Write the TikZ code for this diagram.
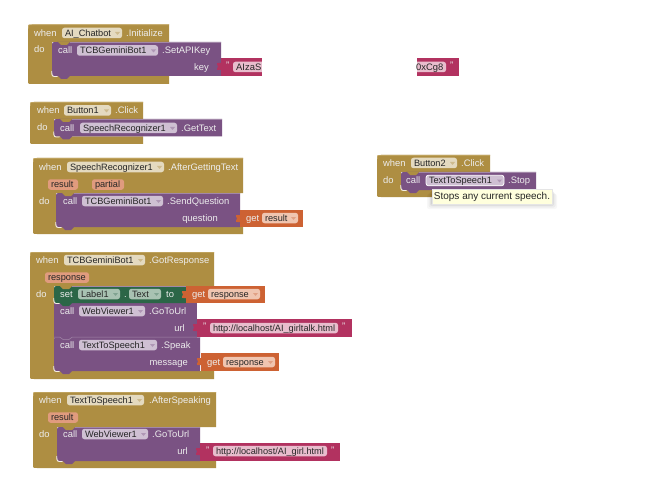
\documentclass[tikz,border=0pt]{standalone}
\usepackage{fontspec}
\setmainfont{Liberation Sans}
\definecolor{gold}{HTML}{AE8E42}
\definecolor{goldL}{HTML}{C8AD6C}
\definecolor{purp}{HTML}{7A5283}
\definecolor{purpL}{HTML}{A287A8}
\definecolor{grn}{HTML}{2B6647}
\definecolor{org}{HTML}{CD6233}
\definecolor{mag}{HTML}{B23260}
\definecolor{fgold}{HTML}{E4DAC0}
\definecolor{fpurp}{HTML}{CFC0D3}
\definecolor{fgrn}{HTML}{A8C2B2}
\definecolor{forg}{HTML}{F0C5B0}
\definecolor{fmag}{HTML}{E8BDCD}
\definecolor{fpar}{HTML}{E09B7E}
\definecolor{tipy}{HTML}{FFFFDD}
\tikzset{
 x=1pt,y=-1pt,
 lbl/.style={text=white!93!black,font=\fontsize{9.4}{11}\selectfont,inner sep=0pt,anchor=west,text height=8pt,text depth=1.2pt},
 fieldbox/.style={rounded corners=2.5pt,inner xsep=3pt,inner ysep=0pt,minimum height=10.5pt,text=black!85,font=\fontsize{9.2}{11}\selectfont,text height=8pt,text depth=1.2pt,align=left},
}
% name x y text
\newcommand{\Tx}[4]{\node[lbl] (#1) at (#2,#3) {#4};}
\newcommand{\Rx}[4]{\node[lbl,anchor=east] (#1) at (#2,#3) {#4};}
% name x1 x2 y fill text
\newcommand{\Fd}[6]{\pgfmathsetmacro\fw{#3-#2}\pgfmathsetmacro\tw{#3-#2-6}\pgfmathsetmacro\fc{(#2+#3)/2}%
 \node[fieldbox,fill=#5,text width=\tw pt,minimum width=\fw pt] (#1) at (\fc,#4) {#6};}
% dropdown field
\newcommand{\Dd}[7]{\Fd{#1}{#2}{#3}{#4}{#5}{#6}\pgfmathsetmacro\ax{#3-7}%
 \fill[#7] (\ax,#4-1) -- ++(5,0) -- ++(-2.5,3) -- cycle;}
% gold block: x1 x2 y1 y2 headerbottom armx innerbottom
\newcommand{\Gb}[7]{%
 \fill[gold] (#1+4,#3) -- (#2,#3) -- (#2,#5) -- (#6,#5) -- (#6,#7) -- (#2,#7) -- (#2,#4) -- (#1+4,#4) .. controls (#1,#4) .. (#1,#4-4) -- (#1,#3+4) .. controls (#1,#3) .. cycle;
 \draw[goldL,line width=.6pt] (#2,#3+.3) -- (#1+4,#3+.3) .. controls (#1+.3,#3+.3) .. (#1+.3,#3+4);
}
% rounded-lower-left statement: x1 x2 y1 y2 colour parent
\newcommand{\Pb}[6]{%
 \fill[#5] (#1+5,#3) .. controls (#1,#3) .. (#1,#3+5) -- (#1,#4-5) .. controls (#1,#4) .. (#1+5,#4) -- (#1+6,#4) -- (#1+9,#4+3) -- (#1+15,#4+3) -- (#1+18,#4) -- (#2,#4) -- (#2,#3) -- cycle;
 \fill[#6] (#1+6,#3) -- (#1+9,#3+3) -- (#1+15,#3+3) -- (#1+18,#3) -- cycle;
 \draw[white!85!gold,line width=.8pt] (#1-.2,#4-5) .. controls (#1-.2,#4+.6) .. (#1+5.5,#4+.6);
 \draw[purpL,line width=.5pt] (#2,#3+.25) -- (#1+18,#3+.25);
}
% square statement joined to previous: x1 x2 y1 y2 colour
\newcommand{\Sb}[5]{\fill[#5] (#1,#3) rectangle (#2,#4);}
% value block with plug: x1 x2 y1 y2 colour
\newcommand{\Vb}[5]{%
 \fill[#5] (#1,#3) rectangle (#2,#4);
 \fill[#5] (#1,#3+5) -- (#1-2.5,#3+5) .. controls (#1-4,#3+5) .. (#1-4,#3+6.5) -- (#1-3,#3+8.5) -- (#1-4,#3+10.5) .. controls (#1-4,#3+12) .. (#1-2.5,#3+12) -- (#1,#3+12) -- cycle;
}
\begin{document}
\begin{tikzpicture}
\useasboundingbox (0,0) rectangle (656,500);
\fill[white] (0,0) rectangle (656,500);
% ---------- Block 1
\Gb{28}{169}{24.5}{84}{42}{52}{76}
\Pb{52}{221}{42}{76}{purp}{gold}
\Tx{a1}{34}{33}{when}
\Dd{a2}{62}{122}{33}{fgold}{AI\_Chatbot}{gold!60}
\Tx{a3}{126}{33}{.Initialize}
\Tx{a4}{34}{49}{do}
\Tx{a5}{58}{50.5}{call}
\Dd{a6}{77}{158}{50.5}{fpurp}{TCBGeminiBot1}{purp!60}
\Tx{a7}{162}{50.5}{.SetAPIKey}
\Rx{a8}{209}{67}{key}
\Vb{221}{459}{58}{76}{mag}
\Fd{a9}{233}{446}{67}{fmag}{}
\fill[white] (262,50) rectangle (417,80);
\node[lbl,text=black!85] (a11) at (236,67) {AIzaS};
\node[lbl,text=black!85,anchor=east] (a12) at (443.5,67) {0xCg8};
\Tx{a13}{226}{65.5}{"}
\Tx{a14}{450}{65.5}{"}
% ---------- Block 2
\Gb{30}{143}{102}{144}{119}{54}{136.5}
\Pb{54}{222}{119}{136.5}{purp}{gold}
\Tx{b1}{37}{110.5}{when}
\Dd{b2}{64}{111}{110.5}{fgold}{Button1}{gold!60}
\Tx{b3}{115}{110.5}{.Click}
\Tx{b4}{37}{127}{do}
\Tx{b5}{60}{128}{call}
\Dd{b6}{80}{177}{128}{fpurp}{SpeechRecognizer1}{purp!60}
\Tx{b7}{181}{128}{.GetText}
% ---------- Block 3
\Gb{33}{243}{158}{234}{193}{56}{227}
\Pb{56}{240}{193}{227}{purp}{gold}
\Tx{c1}{39}{167}{when}
\Dd{c2}{67}{164}{167}{fgold}{SpeechRecognizer1}{gold!60}
\Tx{c3}{168}{167}{.AfterGettingText}
\Fd{c4}{48}{78}{184.5}{fpar}{result}
\Fd{c5}{92}{124}{184.5}{fpar}{partial}
\Tx{c6}{39}{201}{do}
\Tx{c7}{63}{201}{call}
\Dd{c8}{82}{163}{201}{fpurp}{TCBGeminiBot1}{purp!60}
\Tx{c9}{167}{201}{.SendQuestion}
\Rx{c10}{218}{218}{question}
\Vb{240}{303}{210}{227}{org}
\Tx{c11}{246}{218}{get}
\Dd{c12}{262}{298}{218}{forg}{result}{org!60}
% ---------- Block 4
\Gb{30}{214}{252}{379}{286}{54}{371}
\Pb{54}{200}{337}{371}{purp}{purp}
\Sb{54}{197}{303}{338}{purp}
\Pb{54}{186}{286}{303}{grn}{gold}
\draw[purpL,line width=.5pt] (54,337.2) -- (60,337.2) -- (63,339.5) -- (69,339.5) -- (72,337.2) -- (200,337.2);
\Tx{d1}{36}{260}{when}
\Dd{d2}{64}{145}{260}{fgold}{TCBGeminiBot1}{gold!60}
\Tx{d3}{149}{260}{.GotResponse}
\Fd{d4}{45}{89}{277.5}{fpar}{response}
\Tx{d5}{36}{294}{do}
\Tx{d6}{60}{294}{set}
\Dd{d7}{78}{120}{294}{fgrn}{Label1}{grn!60}
\Tx{d8}{124}{294}{.}
\Dd{d9}{129}{161}{294}{fgrn}{Text}{grn!60}
\Tx{d10}{166}{294}{to}
\Vb{186}{265}{286}{303}{org}
\Tx{d11}{192}{294}{get}
\Dd{d12}{208}{260}{294}{forg}{response}{org!60}
\Tx{d13}{60}{311}{call}
\Dd{d14}{79}{145}{311}{fpurp}{WebViewer1}{purp!60}
\Tx{d15}{149}{311}{.GoToUrl}
\Rx{d16}{185}{328}{url}
\Vb{197}{352}{319}{336.5}{mag}
\Tx{d17}{203}{326.5}{"}
\Fd{d18}{210}{338}{328}{fmag}{http://localhost/AI\_girltalk.html}
\Tx{d19}{342}{326.5}{"}
\Tx{d20}{60}{345}{call}
\Dd{d21}{79}{157}{345}{fpurp}{TextToSpeech1}{purp!60}
\Tx{d22}{161}{345}{.Speak}
\Rx{d23}{188}{362}{message}
\Vb{201}{279}{353}{371}{org}
\Tx{d24}{207}{362}{get}
\Dd{d25}{223}{275}{362}{forg}{response}{org!60}
% ---------- Block 5
\Gb{33}{216}{392}{468}{427}{57}{461}
\Pb{57}{200}{427}{461}{purp}{gold}
\Tx{e1}{39}{400}{when}
\Dd{e2}{67}{144}{400}{fgold}{TextToSpeech1}{gold!60}
\Tx{e3}{149}{400}{.AfterSpeaking}
\Fd{e4}{48}{78}{417.5}{fpar}{result}
\Tx{e5}{39}{434}{do}
\Tx{e6}{63}{434}{call}
\Dd{e7}{82}{148}{434}{fpurp}{WebViewer1}{purp!60}
\Tx{e8}{152}{434}{.GoToUrl}
\Rx{e9}{188}{451}{url}
\Vb{200}{340}{443}{461}{mag}
\Tx{e10}{206}{450}{"}
\Fd{e11}{213}{327}{451}{fmag}{http://localhost/AI\_girl.html}
\Tx{e12}{331}{450}{"}
% ---------- Block 6
\Gb{377}{490}{155}{197}{172}{401}{190}
\Pb{401}{536}{172}{190}{purp}{gold}
\Tx{f1}{383}{163}{when}
\Dd{f2}{411}{457}{163}{fgold}{Button2}{gold!60}
\Tx{f3}{461}{163}{.Click}
\Tx{f4}{383}{180}{do}
\Tx{f5}{406}{180.5}{call}
\Dd{f6}{426}{504}{180.5}{fpurp}{TextToSpeech1}{purp!60}
\draw[white,line width=.8pt,rounded corners=2.5pt] (426,175.2) rectangle (504,185.8);
\Tx{f7}{508}{180.5}{.Stop}
\foreach \s/\o in {5/.03,3.5/.04,2/.05,1/.06}
  \fill[black,opacity=\o,rounded corners=2pt] (432-\s,189+\s) rectangle (552+\s,204+\s);
\node[draw=black!10,fill=tipy,line width=.4pt,minimum width=120pt,minimum height=15pt,inner sep=0pt,font=\fontsize{10}{11}\selectfont,text=black!85] (f8) at (492,196.5) {Stops any current speech.};
\end{tikzpicture}
\end{document}
